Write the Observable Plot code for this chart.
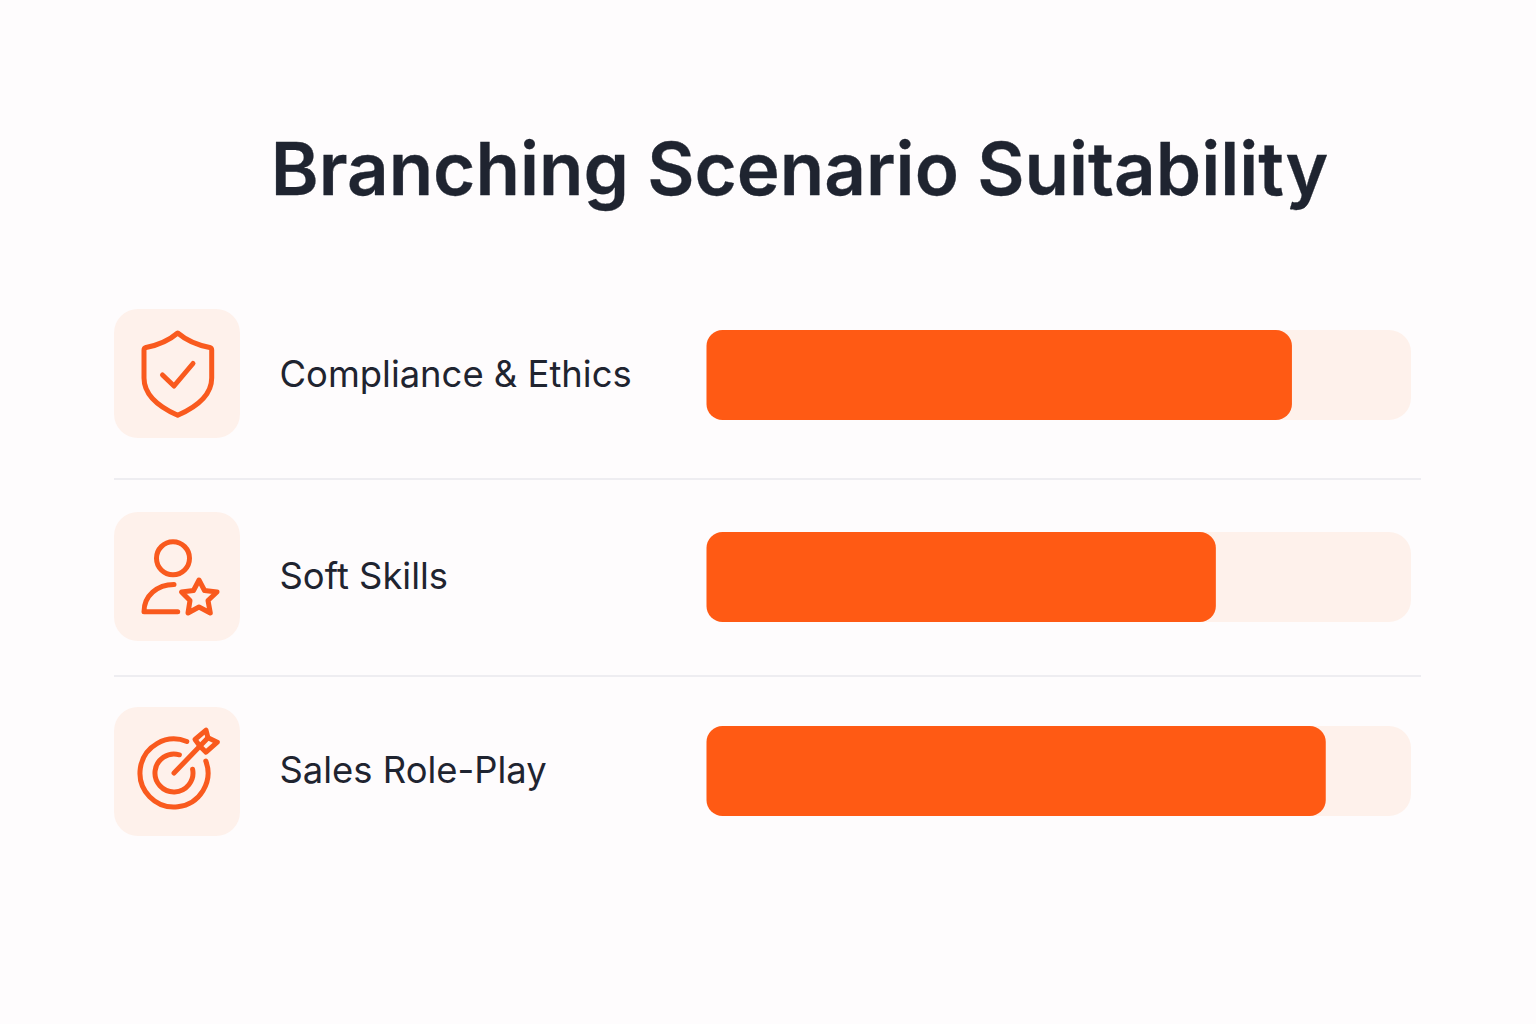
<!DOCTYPE html>
<html><head><meta charset="utf-8">
<script src="https://cdn.jsdelivr.net/npm/d3@7"></script>
<script src="https://cdn.jsdelivr.net/npm/@observablehq/plot@0.6"></script>
<style>html,body{margin:0;padding:0;background:#fefcfd}svg{display:block}</style>
</head><body><div id="chart"></div>
<script>
const title = "Branching Scenario Suitability";
const categories = ["Compliance & Ethics", "Soft Skills", "Sales Role-Play"];
const values = [83.1, 72.3, 87.9];
const maxValue = 100;

// layout and style
const ORANGE = "#ff5a14", TRACK = "#fef1eb", LINE = "#eeedf1", INK = "#1f2430", ICON = "#f95a1e";
const BAR_H = 90;
const rowNudge = [0, 4, 0];
const labelNudge = [0, 4, 0];
const tileTop = [-66, -65, -64];
const iconPaths = [
  ["M0.7 -42C-8 -34.5 -21 -29.5 -31 -27.5Q-33 -27 -33 -25V3C-33 20 -18 32 .7 40.3C19.5 32 34.7 20 34.7 3V-25Q34.7 -27 32.7 -27.5C22.5 -29.5 9.5 -34.5 .7 -42Z",
   "M-14.5 0L-3 11L16 -11.5"],
  ["M-4 -35.2A16.5 16.5 0 1 0 -4 -2.2A16.5 16.5 0 1 0 -4 -35.2Z",
   "M-3 7.5C-20 7.5 -33 19 -33 34.7H.7",
   "M22 3L27.5 13.5L40 15L31 23.5L33.3 36L22 30L11 36L13 23.5L4.5 15L16.5 13.5Z"],
  ["M9.8 -29.5A34 34 0 1 0 28.8 -10",
   "M2.4 -16.2A19 19 0 1 0 15.6 -1.7",
   "M-3 2L31 -33.2",
   "M23 -24.8L18 -31.5L29 -40.8L31 -33.2L40.3 -28.8L29 -18.8Z"]
];

const rows = categories.map((name, i) => ({name, value: values[i], i}));

function iconMark(row) {
  return (index, scales) => {
    const cy = scales.y(row.name) + BAR_H / 2 + rowNudge[row.i];
    const g = d3.create("svg:g").attr("transform", `translate(177,${cy})`);
    g.append("rect").attr("x", -63).attr("y", tileTop[row.i]).attr("width", 126).attr("height", 129)
      .attr("rx", 24).attr("fill", TRACK);
    for (const d of iconPaths[row.i]) {
      g.append("path").attr("d", d).attr("fill", "none").attr("stroke", ICON)
        .attr("stroke-width", 5).attr("stroke-linejoin", "round").attr("stroke-linecap", "round");
    }
    return g.node();
  };
}

const rowMarks = rows.flatMap(r => {
  const dy = rowNudge[r.i];
  return [
    iconMark(r),
    Plot.text([r], {y: "name", text: "name", frameAnchor: "left", dx: 279, dy: labelNudge[r.i], textAnchor: "start",
      fontFamily: "Inter", fontSize: 36.4, fontWeight: 400, fill: INK}),
    Plot.barX([r], {x: () => maxValue, y: "name", fill: TRACK, rx: 22, dy}),
    Plot.barX([r], {x: "value", y: "name", fill: ORANGE, rx: 16, dy})
  ];
});

const separators = (index, scales) => {
  const g = d3.create("svg:g").attr("stroke", LINE).attr("stroke-width", 2);
  [149, 148].forEach((off, i) => {
    const yy = scales.y(categories[i]) + off;
    g.append("line").attr("x1", 114).attr("x2", 1421).attr("y1", yy).attr("y2", yy);
  });
  return g.node();
};

const chart = Plot.plot({
  width: 1536, height: 1024,
  marginTop: 0, marginRight: 0, marginBottom: 0, marginLeft: 0,
  style: {background: "transparent"},
  x: {domain: [0, maxValue], range: [706.5, 1411], axis: null},
  y: {type: "band", domain: categories, range: [330, 816], paddingInner: 108 / 198, paddingOuter: 0, round: false, axis: null},
  marks: [
    Plot.text([title], {frameAnchor: "top", dx: 31, dy: 171, text: d => d, lineAnchor: "middle",
      fontFamily: "Inter", fontSize: 72.7, fontWeight: 600, fill: INK, stroke: INK, strokeWidth: 0.3}),
    ...rowMarks,
    separators
  ]
});
document.getElementById("chart").append(chart);
</script></body></html>
